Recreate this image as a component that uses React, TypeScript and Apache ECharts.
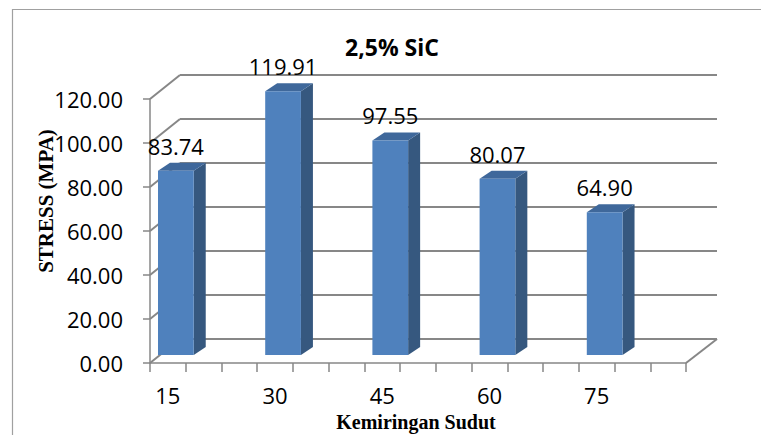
import React, { useEffect, useRef } from "react";
import * as echarts from "echarts";

const categories = ["15", "30", "45", "60", "75"];
const stressValues = [83.74, 119.91, 97.55, 80.07, 64.9];
const yTicks = [0, 20, 40, 60, 80, 100, 120];
const titleText = "2,5% SiC";
const yTitle = "STRESS (MPA)";
const xTitle = "Kemiringan Sudut";

const SLOTS_PER_CAT = 3;
const FONT = "'Open Sans', 'Noto Sans', sans-serif";
const SERIF = "'Liberation Serif', 'DejaVu Serif', serif";
const GRID_COLOR = "#878787";

export default function App() {
  const ref = useRef<HTMLDivElement>(null);
  useEffect(() => {
    if (!ref.current) return;
    const chart = echarts.init(ref.current, undefined, { renderer: "svg" });
    const slots: string[] = [];
    categories.forEach((c) => {
      slots.push(c);
      for (let i = 1; i < SLOTS_PER_CAT; i++) slots.push("");
    });
    const barData = stressValues.map((v, i) => [i * SLOTS_PER_CAT, v]);
    const front = { left: 150, top: 99, width: 536, height: 264 };
    const back = { left: 180, top: 75, width: 537, height: 264 };
    const ddx = back.left - front.left;
    const ddy = back.top - front.top;

    chart.setOption({
      animation: false,
      backgroundColor: "#ffffff",
      grid: [
        { ...front, containLabel: false },
        { ...back, containLabel: false },
      ],
      xAxis: [
        {
          gridIndex: 0,
          type: "category",
          data: slots,
          boundaryGap: true,
          axisLine: { show: true, lineStyle: { color: GRID_COLOR, width: 1.5 } },
          axisTick: { show: true, interval: 0, length: 9, lineStyle: { color: GRID_COLOR, width: 1.5 } },
          axisLabel: { interval: 0, margin: 21, fontSize: 22, color: "#000", fontFamily: FONT },
          splitLine: { show: false },
        },
        {
          gridIndex: 1,
          type: "category",
          data: slots,
          show: false,
        },
      ],
      yAxis: [
        {
          gridIndex: 0,
          type: "value",
          min: 0,
          max: 120,
          interval: 20,
          axisLine: { show: true, lineStyle: { color: GRID_COLOR, width: 1.5 } },
          axisTick: { show: true, length: 7, lineStyle: { color: GRID_COLOR, width: 1.5 } },
          axisLabel: {
            margin: 27,
            fontSize: 22,
            color: "#000",
            fontFamily: FONT,
            formatter: (v: number) => v.toFixed(2),
          },
          splitLine: { show: false },
        },
        {
          gridIndex: 1,
          type: "value",
          min: 0,
          max: 120,
          interval: 20,
          axisLine: { show: false },
          axisTick: { show: false },
          axisLabel: { show: false },
          splitLine: { show: true, lineStyle: { color: GRID_COLOR, width: 2 } },
        },
      ],
      graphic: [
        {
          type: "rect",
          shape: { x: 12.5, y: 9.5, width: 900, height: 600 },
          style: { fill: "none", stroke: "#A0A0A0", lineWidth: 1.2 },
          silent: true,
          z: -10,
        },
        {
          type: "text",
          x: 392,
          y: 47,
          style: {
            text: titleText,
            fill: "#000",
            font: `bold 23px ${FONT}`,
            textAlign: "center",
            textVerticalAlign: "middle",
          },
        },
        {
          type: "text",
          x: 46,
          y: 201,
          rotation: Math.PI / 2,
          style: {
            text: yTitle,
            fill: "#000",
            font: `bold 21px ${SERIF}`,
            textAlign: "center",
            textVerticalAlign: "middle",
          },
        },
        {
          type: "text",
          x: 416,
          y: 422,
          style: {
            text: xTitle,
            fill: "#000",
            font: `bold 20px ${SERIF}`,
            textAlign: "center",
            textVerticalAlign: "middle",
          },
        },
      ],
      series: [
        {
          type: "custom",
          xAxisIndex: 0,
          yAxisIndex: 0,
          z: 1,
          data: yTicks.map((v) => [0, v]),
          renderItem: (params: any, api: any) => {
            const cs = params.coordSys;
            const y = api.coord([0, api.value(1)])[1];
            const children: any[] = [
              {
                type: "line",
                shape: { x1: cs.x, y1: y, x2: cs.x + ddx, y2: y + ddy },
                style: { stroke: GRID_COLOR, lineWidth: 2 },
              },
            ];
            if (api.value(1) === 0) {
              children.push({
                type: "line",
                shape: { x1: cs.x + cs.width, y1: y, x2: cs.x + cs.width + ddx + 1, y2: y + ddy },
                style: { stroke: GRID_COLOR, lineWidth: 2 },
              });
            }
            return { type: "group", children };
          },
        },
        {
          type: "custom",
          xAxisIndex: 0,
          yAxisIndex: 0,
          z: 5,
          data: barData,
          renderItem: (params: any, api: any) => {
            const p = api.coord([api.value(0), api.value(1)]);
            const base = api.coord([api.value(0), 0]);
            const w = api.size([1, 0])[0];
            const x0 = p[0] + 8 - w / 2;
            const x1 = x0 + w;
            const yt = p[1] - 8;
            const yb = base[1] - 8;
            const dx = 12;
            const dy = -8;
            return {
              type: "group",
              children: [
                {
                  type: "polygon",
                  shape: { points: [[x1, yt], [x1 + dx, yt + dy], [x1 + dx, yb + dy], [x1, yb]] },
                  style: { fill: "#36587F" },
                },
                {
                  type: "polygon",
                  shape: { points: [[x0, yt], [x1, yt], [x1 + dx, yt + dy], [x0 + dx, yt + dy]] },
                  style: { fill: "#3F689B" },
                },
                {
                  type: "rect",
                  shape: { x: x0, y: yt, width: w, height: yb - yt },
                  style: { fill: "#4F81BD" },
                },
                {
                  type: "text",
                  x: x0 + w / 2,
                  y: yt + dy - 17,
                  style: {
                    text: api.value(1).toFixed(2),
                    fill: "#000",
                    font: `22px ${FONT}`,
                    textAlign: "center",
                    textVerticalAlign: "middle",
                  },
                },
              ],
            };
          },
        },
      ],
    });
    return () => chart.dispose();
  }, []);
  return (
    <div
      ref={ref}
      style={{ position: "absolute", left: 0, top: 0, width: 761, height: 435, background: "#fff" }}
    />
  );
}
